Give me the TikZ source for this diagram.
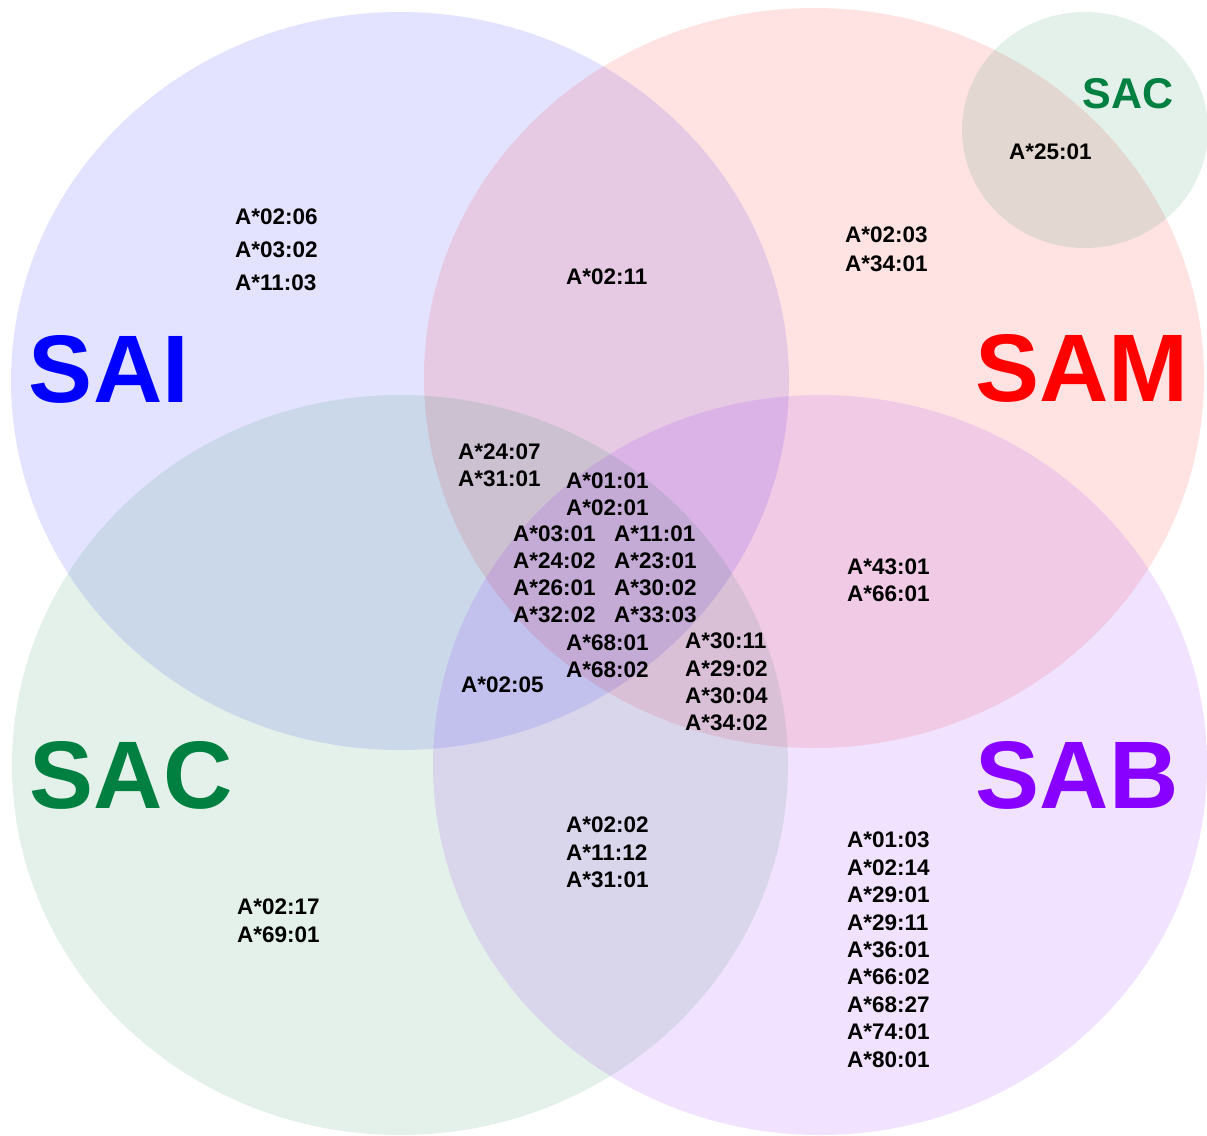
\documentclass[tikz,border=0pt]{standalone}
\usepackage{fontspec}
\setmainfont{Liberation Sans}
\definecolor{saiblue}{RGB}{0,0,255}
\definecolor{samred}{RGB}{255,0,0}
\definecolor{sacgreen}{RGB}{0,128,64}
\definecolor{sabpurple}{RGB}{136,0,255}
\begin{document}
\begin{tikzpicture}[x=1pt,y=-1pt,
  setfill/.style={fill=#1,fill opacity=0.11,draw=none},
  big/.style={font=\bfseries\fontsize{96}{100}\selectfont,inner sep=0pt,anchor=base},
  lab/.style={font=\bfseries\fontsize{22.5}{#1}\selectfont,align=left,inner sep=0pt,anchor=north west},
  lab/.default=27]
\useasboundingbox[fill=white] (0,0) rectangle (1207,1135);
% sets
\fill[setfill=saiblue] (400,381) ellipse [x radius=389pt,y radius=369pt];
\fill[setfill=samred] (814,378) ellipse [x radius=390pt,y radius=370pt];
\fill[setfill=sacgreen] (400,765) ellipse [x radius=388pt,y radius=370pt];
\fill[setfill=sabpurple] (820,765) ellipse [x radius=387pt,y radius=370pt];
\fill[setfill=sacgreen] (1085,130) ellipse [x radius=123pt,y radius=118pt];
% set names
\node[big,text=saiblue] (tSAI) at (109,402) {SAI};
\node[big,text=samred] (tSAM) at (1082,401) {SAM};
\node[big,text=sacgreen] (tSAC) at (131,808) {SAC};
\node[big,text=sabpurple] (tSAB) at (1077,808) {SAB};
\node[big,text=sacgreen,font=\bfseries\fontsize{43}{45}\selectfont] (tSAC2) at (1128,108) {SAC};
% alleles
\node[lab=33] (g1) at (235,209) {A*02:06\\A*03:02\\A*11:03};
\node[lab] (g2) at (566,269) {A*02:11};
\node[lab=28.5] (g3) at (845,227) {A*02:03\\A*34:01};
\node[lab] (g4) at (1009,144) {A*25:01};
\node[lab] (g5) at (458,444) {A*24:07\\A*31:01};
\node[lab] (g6) at (566,473) {A*01:01\\A*02:01};
\node[lab] (g7) at (513,526) {A*03:01\\A*24:02\\A*26:01\\A*32:02};
\node[lab] (g8) at (614,526) {A*11:01\\A*23:01\\A*30:02\\A*33:03};
\node[lab] (g9) at (566,635) {A*68:01\\A*68:02};
\node[lab=27.3] (g10) at (685,633) {A*30:11\\A*29:02\\A*30:04\\A*34:02};
\node[lab] (g11) at (461,677) {A*02:05};
\node[lab] (g12) at (847,559) {A*43:01\\A*66:01};
\node[lab=28] (g13) at (237,899) {A*02:17\\A*69:01};
\node[lab=27.5] (g14) at (566,817) {A*02:02\\A*11:12\\A*31:01};
\node[lab=27.4] (g15) at (847,832) {A*01:03\\A*02:14\\A*29:01\\A*29:11\\A*36:01\\A*66:02\\A*68:27\\A*74:01\\A*80:01};
\end{tikzpicture}
\end{document}
